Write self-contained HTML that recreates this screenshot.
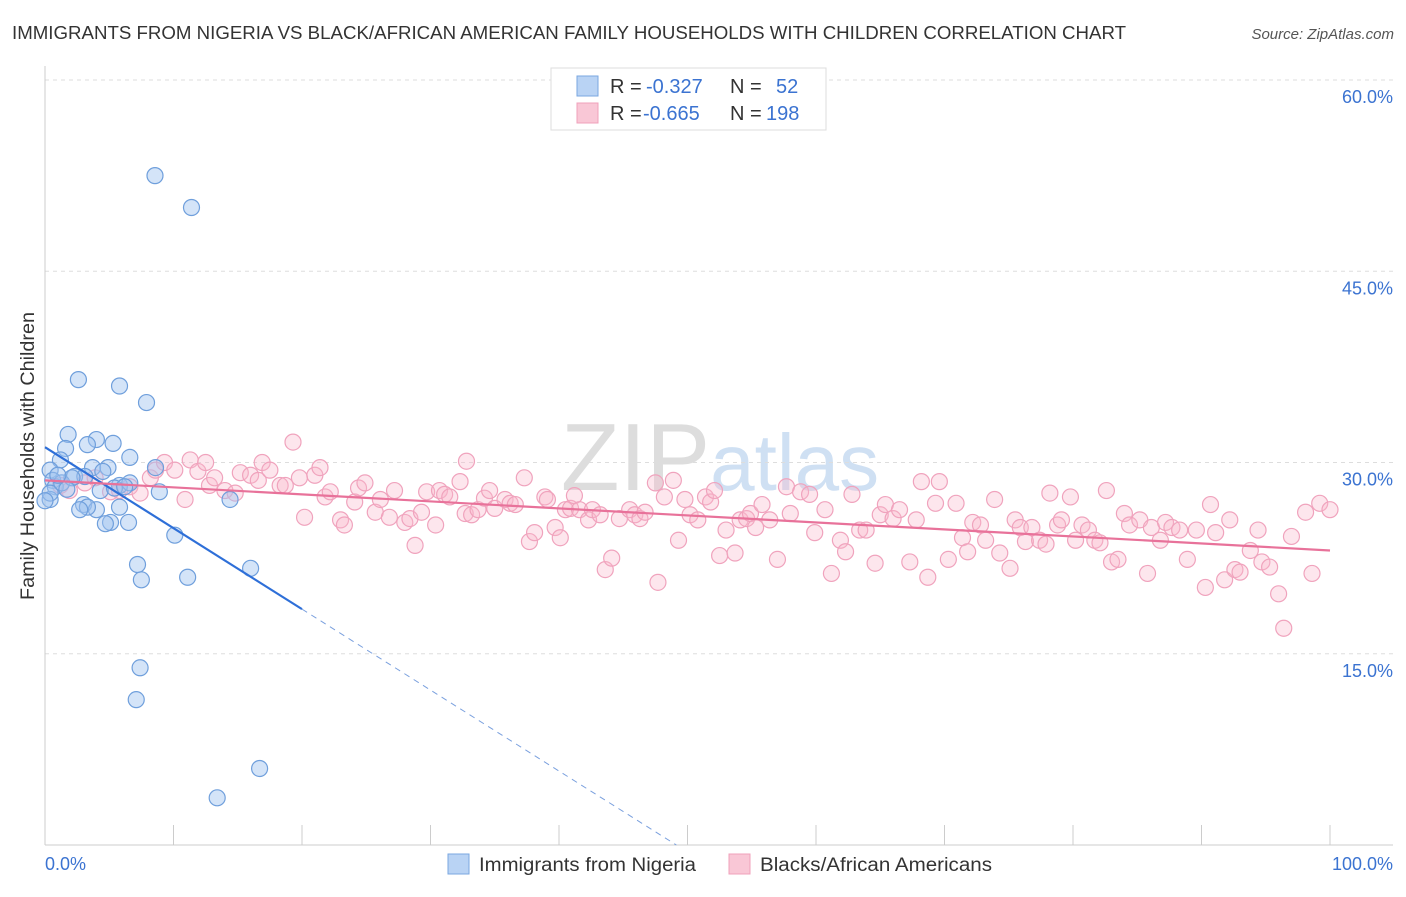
<!DOCTYPE html>
<html><head><meta charset="utf-8"><style>
body{margin:0;background:#fff;font-family:"Liberation Sans",sans-serif;}
svg text{font-family:"Liberation Sans",sans-serif;}
</style></head><body>
<svg id="chart" width="1406" height="892" xmlns="http://www.w3.org/2000/svg">
<text x="12" y="39" font-size="18" fill="#333" textLength="1114" lengthAdjust="spacingAndGlyphs">IMMIGRANTS FROM NIGERIA VS BLACK/AFRICAN AMERICAN FAMILY HOUSEHOLDS WITH CHILDREN CORRELATION CHART</text>
<text x="1394" y="39" font-size="15" font-style="italic" fill="#555" text-anchor="end">Source: ZipAtlas.com</text>
<text x="720" y="490" font-size="96" text-anchor="middle" fill="#e6e6e6" font-family="Liberation Serif"><tspan fill="#dddddd">ZIP</tspan><tspan fill="#cfe0f3" font-family="Liberation Sans" font-size="80">atlas</tspan></text>
<g id="grid"></g>
<g id="axes"></g>
<g id="pink"></g>
<g id="blue"></g>
<g id="trends"></g>
<text transform="translate(34,456) rotate(-90)" font-size="19" fill="#333" text-anchor="middle" textLength="288" lengthAdjust="spacingAndGlyphs">Family Households with Children</text>
<g>
<rect x="551" y="68" width="275" height="62" fill="#fff" stroke="#ddd"/>
<rect x="577" y="76" width="21" height="20" fill="#b9d3f4" stroke="#7aa7e0"/>
<rect x="577" y="103" width="21" height="20" fill="#f9c7d6" stroke="#f0a0bb"/>
<text x="610" y="93" font-size="20" fill="#333">R = <tspan x="646" fill="#3b73d1">-0.327</tspan><tspan x="730">N = </tspan><tspan x="776" fill="#3b73d1">52</tspan></text>
<text x="610" y="120" font-size="20" fill="#333">R = <tspan x="643" fill="#3b73d1">-0.665</tspan><tspan x="730">N = </tspan><tspan x="766" fill="#3b73d1">198</tspan></text>
</g>
<g>
<rect x="448" y="854" width="21" height="20" fill="#b9d3f4" stroke="#7aa7e0"/>
<text x="479" y="871" font-size="19" fill="#333" textLength="217" lengthAdjust="spacingAndGlyphs">Immigrants from Nigeria</text>
<rect x="729" y="854" width="21" height="20" fill="#f9c7d6" stroke="#f0a0bb"/>
<text x="760" y="871" font-size="19" fill="#333" textLength="232" lengthAdjust="spacingAndGlyphs">Blacks/African Americans</text>
</g>
</svg>
<script>
const yTicks=[15,30,45,60];
const yTickLabels=["15.0%","30.0%","45.0%","60.0%"];
const xTickLabels=["0.0%","100.0%"];
const blueX=[8.56,11.4,2.6,5.8,7.9,1.8,4.0,3.3,5.3,1.6,1.2,6.6,3.7,4.9,2.3,8.6,0.4,0.6,0.8,3.1,5.8,6.6,4.3,8.9,14.4,0.4,3.0,4.0,5.8,3.3,5.1,4.7,6.5,10.1,7.2,11.1,7.5,16.0,7.4,7.1,16.7,13.4,0.4,1.3,5.4,2.1,1.0,2.7,6.2,0.0,1.7,4.5];
const blueY=[52.5,50.0,36.5,36.0,34.7,32.2,31.8,31.4,31.5,31.1,30.2,30.4,29.6,29.6,28.9,29.6,29.4,28.6,28.1,28.9,28.2,28.4,27.8,27.7,27.1,27.1,26.7,26.3,26.5,26.5,25.3,25.2,25.3,24.3,22.0,21.0,20.8,21.7,13.9,11.4,6.0,3.7,27.6,28.4,28.0,28.8,29.0,26.3,28.1,27.0,27.9,29.3];
const pinkX=[1.2,1.9,3.1,3.9,5.1,5.8,6.6,7.4,8.2,8.6,9.3,10.1,10.9,11.3,11.9,12.5,12.8,13.2,14.0,14.8,15.2,16.0,16.6,16.9,17.5,18.3,18.7,19.3,19.8,20.2,21.0,21.4,21.8,22.2,23.0,23.3,24.1,24.4,24.9,25.7,26.1,26.8,27.2,28.0,28.4,28.8,29.3,29.7,30.4,30.7,31.1,31.5,32.3,32.7,32.8,33.2,33.7,34.2,34.6,35.0,35.8,36.2,36.6,37.3,37.7,38.1,38.9,39.1,39.7,40.1,40.5,40.9,41.2,41.6,42.3,42.6,43.2,43.6,44.1,44.7,45.5,45.9,46.3,46.7,47.5,47.7,48.2,48.9,49.3,49.8,50.2,50.8,51.4,51.8,52.1,52.5,53.0,53.7,54.1,54.6,54.9,55.3,55.8,56.4,57.0,57.7,58.0,58.8,59.5,59.9,60.7,61.2,61.9,62.3,62.8,63.4,63.9,64.6,65.0,65.4,66.0,66.5,67.3,67.8,68.2,68.7,69.3,69.6,70.3,70.9,71.4,71.8,72.2,72.8,73.2,73.9,74.3,75.1,75.5,75.9,76.3,76.8,77.4,77.9,78.2,78.8,79.1,79.8,80.2,80.7,81.2,81.7,82.1,82.6,83.0,83.5,84.0,84.4,85.2,85.8,86.1,86.8,87.2,87.7,88.3,88.9,89.6,90.3,90.7,91.1,91.8,92.2,92.6,93.0,93.8,94.4,94.7,95.3,96.0,96.4,97.0,98.1,98.6,99.2,100.0];
const pinkY=[28.2,27.8,28.4,28.8,27.7,27.8,28.1,27.6,28.8,29.4,30.0,29.4,27.1,30.2,29.3,30.0,28.2,28.8,27.8,27.6,29.2,29.0,28.6,30.0,29.4,28.2,28.2,31.6,28.8,25.7,29.0,29.6,27.3,27.7,25.5,25.1,26.9,28.0,28.4,26.1,27.1,25.7,27.8,25.3,25.6,23.5,26.1,27.7,25.1,27.8,27.5,27.3,28.5,26.0,30.1,25.9,26.3,27.2,27.8,26.4,27.1,26.8,26.7,28.8,23.8,24.5,27.3,27.1,24.9,24.1,26.3,26.4,27.4,26.3,25.5,26.3,25.9,21.6,22.5,25.6,26.3,25.9,25.6,26.1,28.4,20.6,27.3,28.6,23.9,27.1,25.9,25.5,27.3,26.9,27.8,22.7,24.7,22.9,25.5,25.6,26.0,24.9,26.7,25.5,22.4,28.1,26.0,27.7,27.5,24.5,26.3,21.3,23.9,23.0,27.5,24.7,24.7,22.1,25.9,26.7,25.6,26.3,22.2,25.5,28.5,21.0,26.8,28.5,22.4,26.8,24.1,23.0,25.3,25.1,23.9,27.1,22.9,21.7,25.5,24.9,23.8,24.9,23.9,23.6,27.6,25.1,25.5,27.3,23.9,25.1,24.7,23.9,23.7,27.8,22.2,22.4,26.0,25.1,25.5,21.3,24.9,23.9,25.3,24.9,24.7,22.4,24.7,20.2,26.7,24.5,20.8,25.5,21.6,21.4,23.1,24.7,22.2,21.8,19.7,17.0,24.2,26.1,21.3,26.8,26.3];
const blueTrend=[31.2,-0.635];
const pinkTrend=[28.6,-0.055];
const X0=45,X1=1330,YB=845,YT=80;
const sx=v=>X0+(X1-X0)*v/100;
const sy=v=>YB-(YB-YT)*v/60;
const NS="http://www.w3.org/2000/svg";
function mk(tag,attrs,parent){const e=document.createElementNS(NS,tag);for(const k in attrs)e.setAttribute(k,attrs[k]);parent.appendChild(e);return e;}
const grid=document.getElementById('grid'),axes=document.getElementById('axes');
yTicks.forEach((t,i)=>{
 const l=mk('line',{x1:X0,x2:1393,y1:sy(t),y2:sy(t),stroke:'#ddd','stroke-dasharray':'4,4'},grid);
 
 
 const tx=mk('text',{x:1393,y:sy(t)+23,'font-size':18,fill:'#3b73d1','text-anchor':'end'},axes);
 tx.textContent=yTickLabels[i];
 
 
});
const al=mk('line',{x1:X0,x2:X0,y1:66,y2:YB,stroke:'#ccc'},axes);


const bl=mk('line',{x1:X0,x2:1393,y1:YB,y2:YB,stroke:'#ccc'},axes);


for(let i=0;i<=10;i++){const t=mk('line',{x1:sx(i*10),x2:sx(i*10),y1:YB-20,y2:YB,stroke:'#ccc'},axes);
 
 }
const xl0=mk('text',{x:45,y:870,'font-size':18,fill:'#3b73d1'},axes);xl0.textContent=xTickLabels[0];


const xl1=mk('text',{x:1393,y:870,'font-size':18,fill:'#3b73d1','text-anchor':'end'},axes);xl1.textContent=xTickLabels[1];


const pg=document.getElementById('pink');
pinkX.forEach((x,i)=>{const c=mk('circle',{cx:sx(x),cy:sy(pinkY[i]),r:8,fill:'rgba(248,182,202,0.35)',stroke:'#f0a3bd','stroke-width':1.2},pg);
 
 });
const bg=document.getElementById('blue');
blueX.forEach((x,i)=>{const c=mk('circle',{cx:sx(x),cy:sy(blueY[i]),r:8,fill:'rgba(160,196,240,0.45)',stroke:'#6f9fdc','stroke-width':1.2},bg);
 
 });
const tg=document.getElementById('trends');
const bEnd=20, bZero=-blueTrend[0]/blueTrend[1];
const t1=mk('line',{x1:sx(0),y1:sy(blueTrend[0]),x2:sx(bEnd),y2:sy(blueTrend[0]+blueTrend[1]*bEnd),stroke:'#2e6fd8','stroke-width':2.2},tg);


const t2=mk('line',{x1:sx(bEnd),y1:sy(blueTrend[0]+blueTrend[1]*bEnd),x2:sx(bZero),y2:sy(0),stroke:'#7aa0de','stroke-width':1,'stroke-dasharray':'6,5'},tg);


const t3=mk('line',{x1:sx(0),y1:sy(pinkTrend[0]),x2:sx(100),y2:sy(pinkTrend[0]+pinkTrend[1]*100),stroke:'#e8729a','stroke-width':2.2},tg);


</script>
</body></html>
